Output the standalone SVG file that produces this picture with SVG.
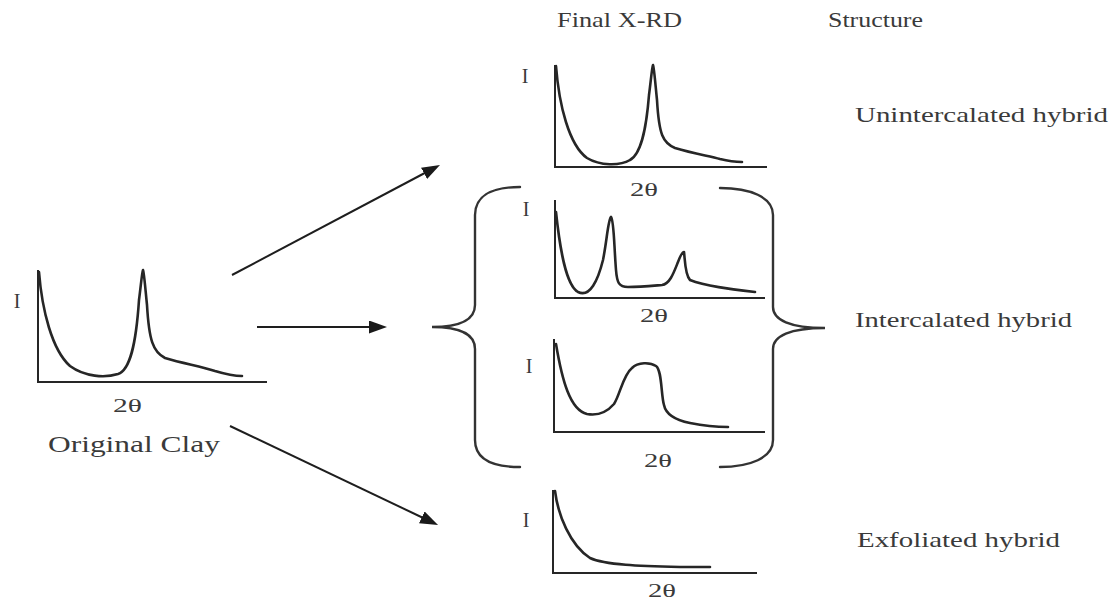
<svg xmlns="http://www.w3.org/2000/svg" width="1116" height="603" viewBox="0 0 1116 603">
  <style>
    .t { font-family: "Liberation Serif", "Times New Roman", serif; fill: #3a3a3a; }
    .lbl { font-size: 22px; }
    .hd { font-size: 21px; }
    .ax { font-size: 20px; }
    .tt { font-size: 19px; }
    .axis { fill: none; stroke: #262626; stroke-width: 2; }
    .curve { fill: none; stroke: #262626; stroke-width: 2.6; stroke-linejoin: round; stroke-linecap: round; }
    .brace { fill: none; stroke: #333; stroke-width: 2.4; stroke-linecap: round; }
    .conn { fill: none; stroke: #1e1e1e; stroke-width: 2; }
  </style>
  <defs>
    <marker id="ah" markerUnits="userSpaceOnUse" markerWidth="20" markerHeight="14" refX="4" refY="6.5" orient="auto">
      <path d="M0,0 L18,6.5 L0,13 z" fill="#1a1a1a"/>
    </marker>
  </defs>
  <rect width="1116" height="603" fill="#ffffff"/>

  <g id="headers">
    <text class="t hd" x="557" y="27" textLength="125" lengthAdjust="spacingAndGlyphs">Final X-RD</text>
    <text class="t hd" x="828" y="27" textLength="95" lengthAdjust="spacingAndGlyphs">Structure</text>
  </g>

  <g id="original-clay">
    <path class="axis" d="M38,270 L38,382 L267,382"/>
    <path class="curve" d="M39,272 C42,310 52,350 70,366 C85,377 105,378 118,374 C130,370 136,345 139,300 C141,285 142,272 143,270 C144,272 145,285 147,305 C149,340 153,352 165,358 C185,364 200,366 215,371 C225,374 235,376 242,376"/>
    <text class="t ax" x="17" y="308" text-anchor="middle">I</text>
    <text class="t tt" x="113" y="412" textLength="29" lengthAdjust="spacingAndGlyphs">2θ</text>
    <text class="t" style="font-size:24px" x="48" y="452" textLength="172" lengthAdjust="spacingAndGlyphs">Original Clay</text>
  </g>

  <g id="unintercalated-xrd">
    <path class="axis" d="M555,65 L555,167 L767,167"/>
    <path class="curve" d="M556,66 C559,105 569,145 587,158 C600,166 620,166 630,160 C643,153 647,120 649,95 C651,80 652,67 653,65 C654,67 655,80 657,100 C659,135 663,143 675,148 C695,154 710,156 720,159 C728,161 735,162 742,162"/>
    <text class="t ax" x="525" y="83" text-anchor="middle">I</text>
    <text class="t tt" x="630" y="196" textLength="28" lengthAdjust="spacingAndGlyphs">2θ</text>
  </g>

  <g id="intercalated-xrd-1">
    <path class="axis" d="M555,200 L555,298 L765,298"/>
    <path class="curve" d="M556,212 C560,250 566,285 578,292 C590,298 598,280 603,260 C607,240 608,220 611,217 C614,220 614,245 616,270 C617,283 619,287 628,287 C640,287 650,286 662,285 C670,284 674,272 678,262 C681,254 683,252 684,252 C685,260 685,275 690,280 C705,286 730,289 755,292"/>
    <text class="t ax" x="526" y="216" text-anchor="middle">I</text>
    <text class="t tt" x="640" y="322" textLength="28" lengthAdjust="spacingAndGlyphs">2θ</text>
  </g>

  <g id="intercalated-xrd-2">
    <path class="axis" d="M554,339 L554,432 L765,432"/>
    <path class="curve" d="M556,344 C562,380 570,410 587,414 C598,416 607,412 614,404 C620,395 623,375 632,368 C638,362 650,362 656,366 C662,370 661,395 664,405 C666,415 675,420 690,423 C705,426 718,427 728,427"/>
    <text class="t ax" x="529" y="373" text-anchor="middle">I</text>
    <text class="t tt" x="644" y="467" textLength="28" lengthAdjust="spacingAndGlyphs">2θ</text>
  </g>

  <g id="exfoliated-xrd">
    <path class="axis" d="M553,490 L553,573 L757,573"/>
    <path class="curve" d="M555,491 C558,515 570,545 590,558 C605,565 640,566 680,567 L710,567"/>
    <text class="t ax" x="526" y="527" text-anchor="middle">I</text>
    <text class="t tt" x="648" y="597" textLength="28" lengthAdjust="spacingAndGlyphs">2θ</text>
  </g>

  <g id="braces">
    <path class="brace" d="M520,187 C490,187 475,197 475,215 L475,305 C475,320 460,327 432,327 C460,327 475,334 475,349 L475,440 C475,458 490,467 520,467"/>
    <path class="brace" d="M720,188 C750,188 773,197 773,215 L773,307 C773,320 790,328 825,328 C790,328 773,336 773,349 L773,440 C773,458 750,467 720,467"/>
  </g>

  <g id="structure-labels">
    <text class="t lbl" x="855" y="122" textLength="253" lengthAdjust="spacingAndGlyphs">Unintercalated hybrid</text>
    <text class="t lbl" x="855" y="327" textLength="217" lengthAdjust="spacingAndGlyphs">Intercalated hybrid</text>
    <text class="t lbl" x="857" y="547" textLength="203" lengthAdjust="spacingAndGlyphs">Exfoliated hybrid</text>
  </g>

  <g id="connectors">
    <line class="conn" x1="232" y1="275" x2="427.6" y2="171.5" marker-end="url(#ah)"/>
    <line class="conn" x1="257" y1="327" x2="373" y2="327" marker-end="url(#ah)"/>
    <line class="conn" x1="230" y1="426" x2="425.4" y2="519" marker-end="url(#ah)"/>
  </g>
</svg>
